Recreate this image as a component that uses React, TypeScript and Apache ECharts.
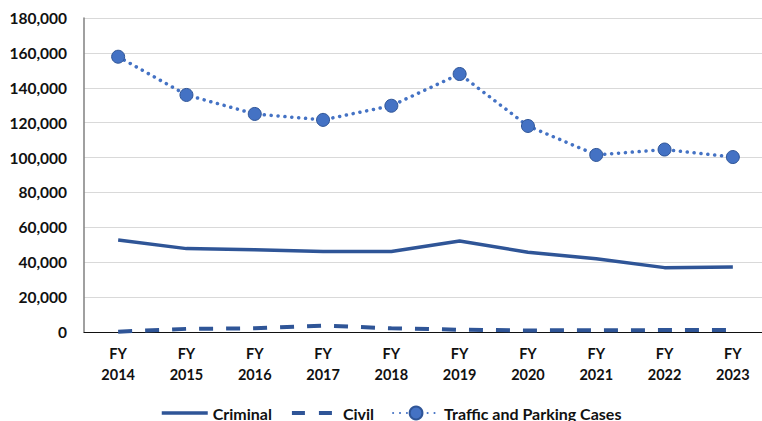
import React, { useEffect, useRef } from "react";
import * as echarts from "echarts";

const categories = ["FY\n2014", "FY\n2015", "FY\n2016", "FY\n2017", "FY\n2018", "FY\n2019", "FY\n2020", "FY\n2021", "FY\n2022", "FY\n2023"];
const criminal = [52700, 47800, 47100, 46200, 46200, 52200, 45700, 42000, 36900, 37200];
const civil = [200, 1800, 2100, 3700, 2100, 1300, 900, 1000, 1100, 1100];
const traffic = [157800, 135900, 125000, 121600, 129700, 147900, 118100, 101500, 104600, 100300];
const yTicks = { min: 0, max: 180000, interval: 20000 };

const FONT = "Lato, 'Open Sans', sans-serif";

export default function App() {
  const ref = useRef<HTMLDivElement>(null);
  useEffect(() => {
    if (!ref.current) return;
    const chart = echarts.init(ref.current, null, { renderer: "svg" });
    chart.setOption({
      animation: false,
      textStyle: { fontFamily: FONT },
      grid: { left: 84, width: 683, top: 18, bottom: 89 },
      legend: {
        top: 400,
        left: 155,
        itemWidth: 46,
        itemHeight: 16,
        itemGap: 18,
        textStyle: { fontFamily: FONT, fontSize: 16, fontWeight: "bold", color: "#111" },
        data: [
          { name: "Criminal", itemStyle: { opacity: 0 }, lineStyle: { width: 3.5 } },
          { name: "Civil", itemStyle: { opacity: 0 }, lineStyle: { width: 4, type: [13, 14] } },
          { name: "Traffic and Parking Cases" },
        ],
      },
      xAxis: {
        type: "category",
        data: categories,
        boundaryGap: true,
        axisLine: { lineStyle: { color: "#111", width: 1 } },
        axisTick: { show: false },
        axisLabel: { fontFamily: FONT, fontSize: 14.5, fontWeight: "bold", color: "#111", lineHeight: 21, margin: 11 },
      },
      yAxis: {
        type: "value",
        min: yTicks.min,
        max: yTicks.max,
        interval: yTicks.interval,
        axisLine: { show: true, lineStyle: { color: "#808080", width: 1.5 } },
        axisTick: { show: false },
        splitLine: { lineStyle: { color: "#D9D9D9", width: 1.2 } },
        axisLabel: {
          fontFamily: FONT,
          fontSize: 15.5,
          fontWeight: "bold",
          color: "#111",
          margin: 17,
          formatter: (v: number) => v.toLocaleString("en-US"),
        },
      },
      series: [
        {
          name: "Criminal",
          type: "line",
          data: criminal,
          showSymbol: false,
          symbol: "none",
          lineStyle: { color: "#2F5597", width: 3.5 },
          itemStyle: { color: "#2F5597" },
          z: 2,
        },
        {
          name: "Civil",
          type: "line",
          data: civil,
          showSymbol: false,
          symbol: "none",
          lineStyle: { color: "#2F5597", width: 4, type: [14, 13] },
          itemStyle: { color: "#2F5597" },
          z: 2,
        },
        {
          name: "Traffic and Parking Cases",
          type: "line",
          data: traffic,
          symbol: "circle",
          symbolSize: 13,
          lineStyle: { color: "#4472C4", width: 3.5, type: [0.1, 6.8], cap: "round" },
          itemStyle: { color: "#4472C4", borderColor: "#2F5597", borderWidth: 1 },
          z: 3,
        },
      ],
    });
    return () => chart.dispose();
  }, []);
  return (
    <div style={{ width: 762, height: 421, position: "absolute", left: 0, top: 0, overflow: "hidden" }}>
      <div ref={ref} style={{ width: 780, height: 421 }} />
    </div>
  );
}
